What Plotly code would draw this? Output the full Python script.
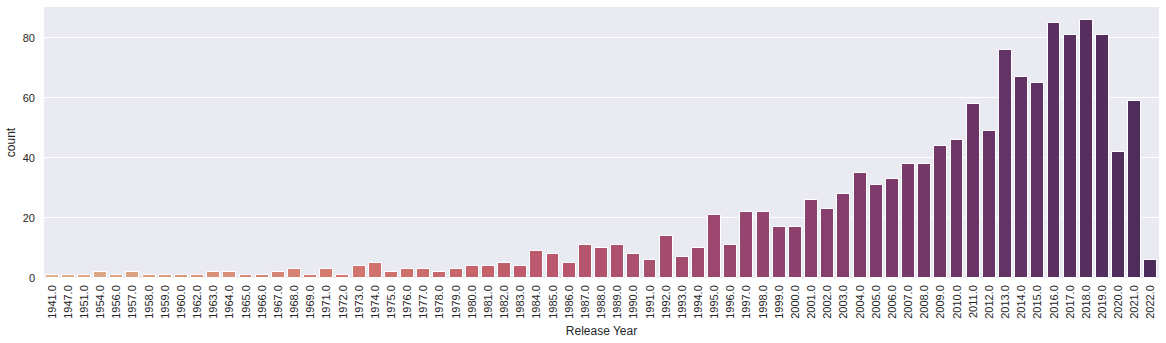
import colorsys
import plotly.graph_objects as go

years = [1941, 1947, 1951, 1954, 1956, 1957, 1958, 1959, 1960, 1962, 1963, 1964,
         1965, 1966, 1967, 1968, 1969, 1971, 1972, 1973, 1974, 1975, 1976, 1977,
         1978, 1979, 1980, 1981, 1982, 1983, 1984, 1985, 1986, 1987, 1988, 1989,
         1990, 1991, 1992, 1993, 1994, 1995, 1996, 1997, 1998, 1999, 2000, 2001,
         2002, 2003, 2004, 2005, 2006, 2007, 2008, 2009, 2010, 2011, 2012, 2013,
         2014, 2015, 2016, 2017, 2018, 2019, 2020, 2021, 2022]
counts = [1, 1, 1, 2, 1, 2, 1, 1, 1, 1, 2, 2,
          1, 1, 2, 3, 1, 3, 1, 4, 5, 2, 3, 3,
          2, 3, 4, 4, 5, 4, 9, 8, 5, 11, 10, 11,
          8, 6, 14, 7, 10, 21, 11, 22, 22, 17, 17, 26,
          23, 28, 35, 31, 33, 38, 38, 44, 46, 58, 49, 76,
          67, 65, 85, 81, 86, 81, 42, 59, 6]
labels = [f"{y:.1f}" for y in years]

# approximate seaborn "flare" colormap anchors
flare = [(0.0, (237, 176, 129)), (1/7, (233, 141, 107)), (2/7, (227, 104, 92)),
         (3/7, (209, 74, 97)), (4/7, (177, 60, 108)), (5/7, (143, 51, 113)),
         (6/7, (108, 43, 109)), (1.0, (75, 35, 98))]


def flare_at(t):
    for (t0, c0), (t1, c1) in zip(flare[:-1], flare[1:]):
        if t0 <= t <= t1:
            f = (t - t0) / (t1 - t0)
            return [c0[i] + (c1[i] - c0[i]) * f for i in range(3)]
    return list(flare[-1][1])


def desat(rgb, s=0.75):
    h, l, sat = colorsys.rgb_to_hls(*[v / 255 for v in rgb])
    r, g, b = colorsys.hls_to_rgb(h, l, sat * s)
    return f"rgb({round(r*255)},{round(g*255)},{round(b*255)})"


n = len(years)
colors = [desat(flare_at((i + 1) / (n + 1))) for i in range(n)]

fig = go.Figure(go.Bar(
    x=labels, y=counts, marker=dict(color=colors, line=dict(color="white", width=1)),
    width=0.8,
))

font = "Liberation Sans, Arial, sans-serif"
fig.update_layout(
    width=1166, height=343,
    margin=dict(l=44, r=7, t=7, b=65),
    paper_bgcolor="white", plot_bgcolor="#EAEAF2",
    font=dict(family=font, size=11, color="#262626"),
    showlegend=False,
    bargap=0,
)
fig.update_xaxes(
    type="category", range=[-0.5, n - 0.5], tickangle=-90,
    showgrid=False, zeroline=False, showline=False, ticks="",
    ticklabelstandoff=4,
    title=dict(text="Release Year", font=dict(size=12, color="#262626"), standoff=8),
)
fig.update_yaxes(
    range=[0, 90.3], tickvals=[0, 20, 40, 60, 80],
    showgrid=True, gridcolor="white", gridwidth=1.2, zeroline=False, showline=False,
    ticks="", ticklabelstandoff=8,
    title=dict(text="count", font=dict(size=12, color="#262626"), standoff=4),
)

fig.write_html("out.html")
